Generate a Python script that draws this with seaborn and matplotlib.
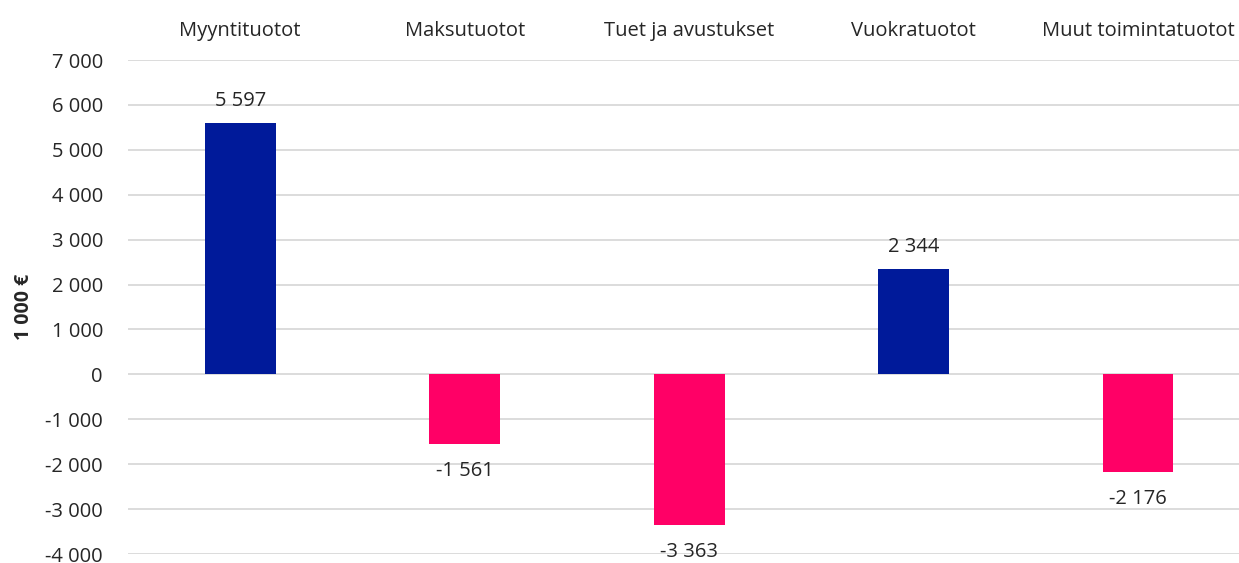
import pandas as pd
import seaborn as sns
import matplotlib.pyplot as plt
from matplotlib.ticker import FuncFormatter

categories = ["Myyntituotot", "Maksutuotot", "Tuet ja avustukset", "Vuokratuotot", "Muut toimintatuotot"]
values = [5597, -1561, -3363, 2344, -2176]

df = pd.DataFrame({"cat": categories, "val": values})
df["sign"] = ["pos" if v >= 0 else "neg" for v in df["val"]]

sns.set_style("white")
plt.rcParams["font.family"] = ["Open Sans", "DejaVu Sans"]

fig = plt.figure(figsize=(12.39, 5.63), dpi=100)
ax = fig.add_axes([128 / 1239, 1 - 554 / 563, 1 - 128 / 1239, (554 - 60) / 563])

sns.barplot(data=df, x="cat", y="val", hue="sign", palette={"pos": "#001A9A", "neg": "#FF0066"},
            width=0.316, dodge=False, legend=False, ax=ax, saturation=1, linewidth=0)

ax.set_ylim(-4000, 7000)
ax.set_xlim(-0.5, 4.45)
ax.set_yticks(range(-4000, 7001, 1000))
ax.yaxis.set_major_formatter(FuncFormatter(lambda v, p: f"{int(v):,}".replace(",", " ")))
ax.grid(axis="y", color="#D9D9D9", linewidth=1.3)
ax.set_axisbelow(True)
for s in ax.spines.values():
    s.set_visible(False)
ax.tick_params(axis="y", length=0, labelsize=14.5, labelcolor="#262626", pad=18)
ax.xaxis.tick_top()
ax.tick_params(axis="x", length=0, labelsize=14.5, labelcolor="#262626", pad=14)
ax.set_xlabel("")
ax.set_ylabel("1 000 €", fontsize=14, fontweight="bold", color="#262626", labelpad=8)

for i, v in enumerate(values):
    off = 9 if v >= 0 else -12
    ax.annotate(f"{v:,}".replace(",", " "), (i, v), xytext=(0, off), textcoords="offset points",
                ha="center", va="bottom" if v >= 0 else "top", fontsize=14.5, color="#262626")

fig.savefig("out.png", dpi=100)
